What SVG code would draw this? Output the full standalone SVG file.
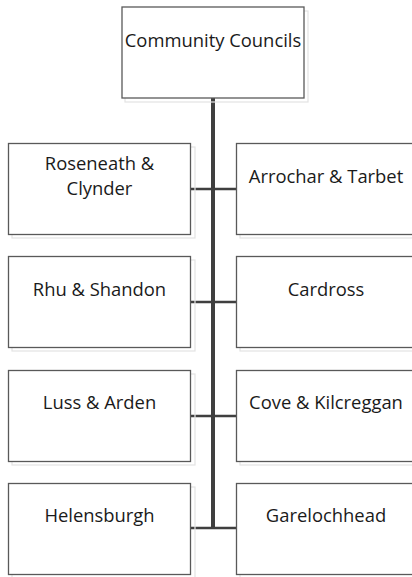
<svg xmlns="http://www.w3.org/2000/svg" width="412" height="577" viewBox="0 0 412 577">
<style>
.box{fill:#fff;stroke:#595959;stroke-width:1.3}
.ghost{fill:none;stroke:#e3e3e3;stroke-width:1.2}
.t{font-family:"Open Sans","Liberation Sans",sans-serif;font-size:18.4px;fill:#1a1a1a;text-anchor:middle}
.trunk{stroke:#3f3f3f;stroke-width:4;fill:none}
.br{stroke:#3f3f3f;stroke-width:2.5;fill:none}
</style>
<rect width="412" height="577" fill="#fff"/>
<g id="connectors">
<line class="trunk" x1="213" y1="98" x2="213" y2="529"/>
<line class="br" x1="190" y1="189" x2="236" y2="189"/>
<line class="br" x1="190" y1="302" x2="236" y2="302"/>
<line class="br" x1="190" y1="416" x2="236" y2="416"/>
<line class="br" x1="190" y1="528" x2="236" y2="528"/>
</g>
<g id="community-councils">
<rect class="ghost" x="125" y="11" width="183" height="91"/>
<rect class="box" x="122" y="7" width="182" height="91"/>
<text class="t" x="213" y="47">Community Councils</text>
</g>
<g id="roseneath-clynder">
<rect class="ghost" x="12" y="147" width="183" height="91"/>
<rect class="box" x="8.5" y="143.5" width="182" height="91"/>
<text class="t" x="99.5" y="170">Roseneath &amp;</text>
<text class="t" x="99.5" y="195">Clynder</text>
</g>
<g id="arrochar-tarbet">
<rect class="ghost" x="240" y="147" width="183" height="91"/>
<rect class="box" x="236.5" y="143.5" width="182" height="91"/>
<text class="t" x="326" y="183">Arrochar &amp; Tarbet</text>
</g>
<g id="rhu-shandon">
<rect class="ghost" x="12" y="260" width="183" height="91"/>
<rect class="box" x="8.5" y="256.5" width="182" height="91"/>
<text class="t" x="99.5" y="296">Rhu &amp; Shandon</text>
</g>
<g id="cardross">
<rect class="ghost" x="240" y="260" width="183" height="91"/>
<rect class="box" x="236.5" y="256.5" width="182" height="91"/>
<text class="t" x="326" y="296">Cardross</text>
</g>
<g id="luss-arden">
<rect class="ghost" x="12" y="374" width="183" height="91"/>
<rect class="box" x="8.5" y="370.5" width="182" height="91"/>
<text class="t" x="99.5" y="409">Luss &amp; Arden</text>
</g>
<g id="cove-kilcreggan">
<rect class="ghost" x="240" y="374" width="183" height="91"/>
<rect class="box" x="236.5" y="370.5" width="182" height="91"/>
<text class="t" x="326" y="409">Cove &amp; Kilcreggan</text>
</g>
<g id="helensburgh">
<rect class="ghost" x="12" y="487" width="183" height="91"/>
<rect class="box" x="8.5" y="483.5" width="182" height="91"/>
<text class="t" x="99.5" y="522">Helensburgh</text>
</g>
<g id="garelochhead">
<rect class="ghost" x="240" y="487" width="183" height="91"/>
<rect class="box" x="236.5" y="483.5" width="182" height="91"/>
<text class="t" x="326" y="522">Garelochhead</text>
</g>
</svg>
